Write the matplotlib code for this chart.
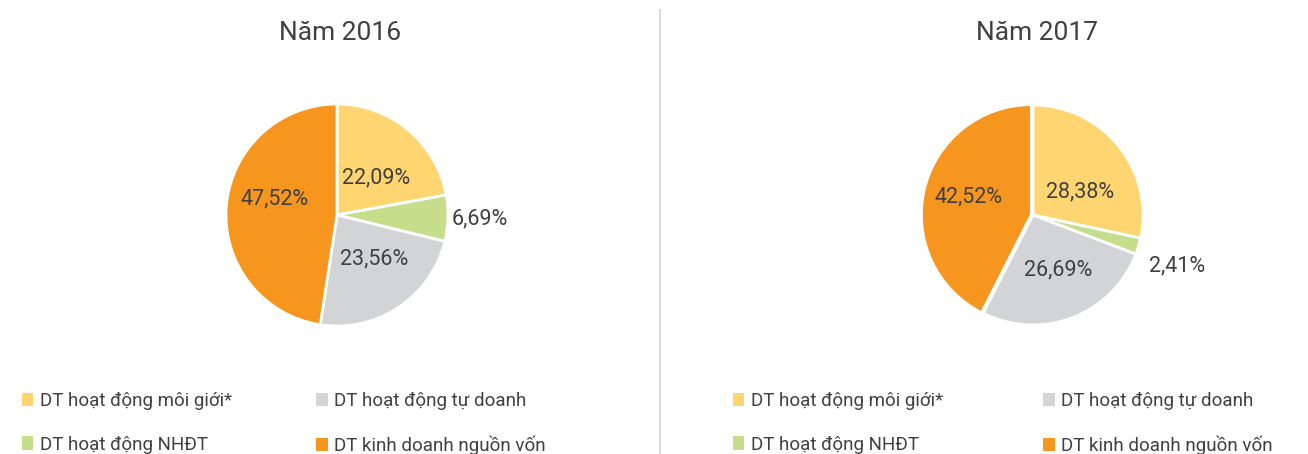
import matplotlib
matplotlib.use("Agg")
import matplotlib.pyplot as plt
from matplotlib.patches import Patch
import numpy as np

plt.rcParams['font.family'] = ['Roboto', 'DejaVu Sans']

categories = ["DT hoạt động môi giới*", "DT hoạt động NHĐT",
              "DT hoạt động tự doanh", "DT kinh doanh nguồn vốn"]
values_2016 = [22.09, 6.69, 23.56, 47.52]
values_2017 = [28.38, 2.41, 26.69, 42.52]
labels_2016 = ["22,09%", "6,69%", "23,56%", "47,52%"]
labels_2017 = ["28,38%", "2,41%", "26,69%", "42,52%"]
titles = ["Năm 2016", "Năm 2017"]
colors = ["#FFD571", "#C6DE8C", "#D3D4D6", "#F7961E"]
text_color = "#404040"

W, H = 1308, 454
fig = plt.figure(figsize=(W / 100, H / 100), dpi=100)
fig.patch.set_facecolor("white")

def draw(cx, cy, R, vals, labs, title, tx, dists, angoffs, explode, leg_x, colsp):
    ax = fig.add_axes([(cx - R) / W, 1 - (cy + R) / H, 2 * R / W, 2 * R / H])
    wedges, _ = ax.pie(vals, colors=colors, startangle=90, counterclock=False,
                       radius=1.0, explode=explode,
                       wedgeprops=dict(edgecolor="white", linewidth=2))
    for w, lab, d, off in zip(wedges, labs, dists, angoffs):
        ang = np.deg2rad((w.theta1 + w.theta2) / 2 + off)
        ax.text(d * np.cos(ang), d * np.sin(ang), lab, ha="center", va="center",
                fontsize=15.5, color=text_color, clip_on=False)
    ax.set_xlim(-1, 1)
    ax.set_ylim(-1, 1)
    ax.axis("off")
    fig.text(tx / W, 1 - 33 / H, title, ha="center", va="center",
             fontsize=19, color=text_color)
    handles = [Patch(facecolor=c, edgecolor="none") for c in colors]
    fig.legend(handles, categories, loc="upper left",
               bbox_to_anchor=(leg_x / W, 1 - 392 / H), ncol=2, frameon=False,
               prop={'size': 13.5},
               handlelength=0.6, handleheight=0.75, handletextpad=0.35,
               labelspacing=1.36, columnspacing=colsp, labelcolor=text_color,
               borderpad=0, borderaxespad=0)

draw(337, 215, 111, values_2016, labels_2016, titles[0], 340,
     [0.49, 1.29, 0.52, 0.58], [-6.7, 0, 5.9, -9.7], [0, 0, 0, 0], 22, 4.5)
draw(1033, 215, 110, values_2017, labels_2017, titles[1], 1037,
     [0.48, 1.39, 0.55, 0.61], [-12.5, -3, 3.6, -1.8], [0, 0, 0, 0.015], 733, 5.35)

fig.add_artist(plt.Line2D([660 / W, 660 / W], [0, 1 - 10 / H],
                          color="#D9D9D9", linewidth=1.5))

fig.savefig("out.png", dpi=100, facecolor="white")
